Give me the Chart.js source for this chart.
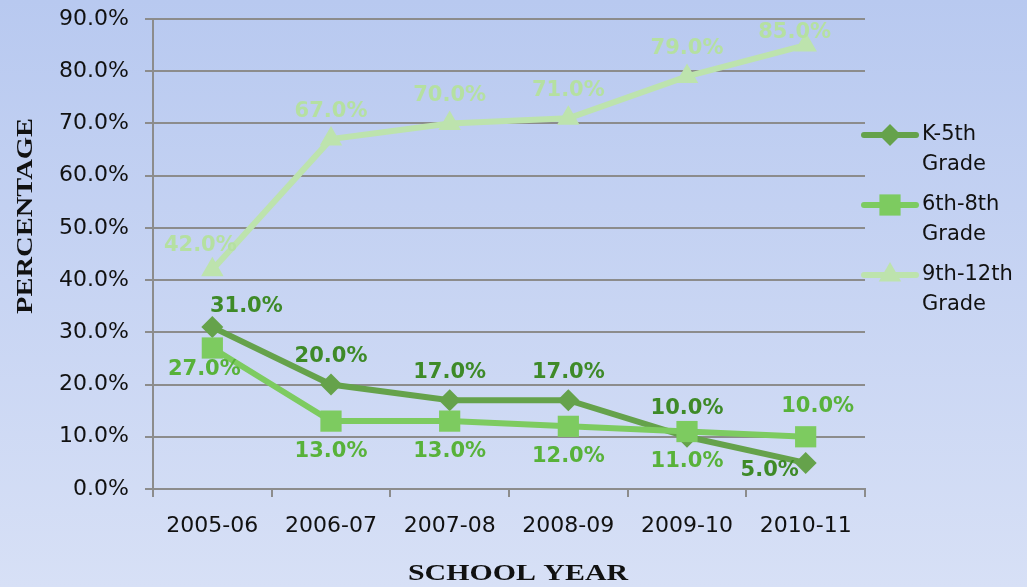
<!DOCTYPE html>
<html>
<head>
<meta charset="utf-8">
<script src="https://cdn.jsdelivr.net/npm/chart.js@4"></script>
<style>
  html, body { margin: 0; padding: 0; }
  body { width: 1027px; height: 587px; overflow: hidden; }
  #chart { display: block; }
</style>
</head>
<body>
<canvas id="chart" width="1027" height="587"></canvas>
<script>
// --- data ---
const years = ["2005-06", "2006-07", "2007-08", "2008-09", "2009-10", "2010-11"];
const k5 = [31, 20, 17, 17, 10, 5];
const g68 = [27, 13, 13, 12, 11, 10];
const g912 = [42, 67, 70, 71, 79, 85];
const legendNames = [["K-5th", "Grade"], ["6th-8th", "Grade"], ["9th-12th", "Grade"]];
const yTicks = [0, 10, 20, 30, 40, 50, 60, 70, 80, 90];

// label placement per point (styling only)
const places = [
  ["aboveRight", "above", "above", "above", "above", "belowLeft"],
  ["belowLeft", "below", "below", "below", "below", "aboveRight"],
  ["aboveLeft", "above", "above", "above", "above", "nearLeft"],
];
const labelColors = ["#3e8a28", "#58b23a", "#b5e0a1"];

const FONT = "'DejaVu Sans', Lato, sans-serif";
const SERIF = "'Liberation Serif', 'Times New Roman', serif";

// --- background ---
const bgPlugin = {
  id: "bg",
  beforeDraw(chart) {
    const { ctx, width, height } = chart;
    const g = ctx.createLinearGradient(0, 0, 0, height);
    g.addColorStop(0, "#b8c9f0");
    g.addColorStop(1, "#d7e0f6");
    ctx.save();
    ctx.fillStyle = g;
    ctx.fillRect(0, 0, width, height);
    ctx.restore();
  },
};

// --- value labels ---
const labelPlugin = {
  id: "vals",
  afterDatasetsDraw(chart) {
    const ctx = chart.ctx;
    ctx.save();
    ctx.font = "bold 21px " + FONT;
    ctx.textAlign = "center";
    ctx.textBaseline = "middle";
    chart.data.datasets.forEach((ds, di) => {
      const meta = chart.getDatasetMeta(di);
      meta.data.forEach((pt, i) => {
        let dx = 0, dy = 0;
        switch (places[di][i]) {
          case "above": dy = -28; break;
          case "below": dy = 30; break;
          case "aboveRight": dx = 34; dy = -21; break;
          case "aboveLeft": dx = -12; dy = -24; break;
          case "nearLeft": dx = -11; dy = -13; break;
          case "belowLeft": dx = di === 0 ? -36 : -8; dy = di === 0 ? 8 : 22; break;
        }
        if (di === 1 && places[di][i] === "aboveRight") { dx = 12; dy = -30; }
        ctx.fillStyle = labelColors[di];
        ctx.fillText(ds.data[i].toFixed(1) + "%", pt.x + dx, pt.y + dy);
      });
    });
    ctx.restore();
  },
};

// --- legend + axis titles ---
const sidePlugin = {
  id: "side",
  afterDraw(chart) {
    const ctx = chart.ctx;
    ctx.save();
    const rows = [135, 205, 275];
    chart.data.datasets.forEach((ds, di) => {
      const y = rows[di];
      ctx.strokeStyle = ds.borderColor;
      ctx.lineWidth = 6;
      ctx.lineCap = "round";
      ctx.beginPath();
      ctx.moveTo(864, y);
      ctx.lineTo(916, y);
      ctx.stroke();
      ctx.fillStyle = ds.pointBackgroundColor;
      ctx.strokeStyle = ds.pointBackgroundColor;
      ctx.lineWidth = 0;
      Chart.helpers.drawPoint(ctx, {
        pointStyle: ds.pointStyle, radius: ds.pointRadius, borderWidth: 0, rotation: 0,
      }, 890, y);
      ctx.fillStyle = "#111";
      ctx.font = "21px " + FONT;
      ctx.textAlign = "left";
      ctx.textBaseline = "middle";
      ctx.fillText(legendNames[di][0], 922, y);
      ctx.fillText(legendNames[di][1], 922, y + 30);
    });

    ctx.fillStyle = "#111";
    ctx.font = "bold 23px " + SERIF;
    ctx.textAlign = "center";
    ctx.textBaseline = "middle";
    ctx.save();
    ctx.translate(518, 574);
    ctx.scale(1.3, 1);
    ctx.fillText("SCHOOL YEAR", 0, 0);
    ctx.restore();
    ctx.save();
    ctx.translate(26, 216);
    ctx.rotate(-Math.PI / 2);
    ctx.scale(1.24, 1);
    ctx.fillText("PERCENTAGE", 0, 0);
    ctx.restore();
    ctx.restore();
  },
};

const lineSet = (label, data, color, style, radius, order) => ({
  label, data, order,
  borderColor: color,
  backgroundColor: color,
  pointBackgroundColor: color,
  pointBorderColor: color,
  pointBorderWidth: 0,
  pointStyle: style,
  pointRadius: radius,
  borderWidth: 6,
  tension: 0,
  fill: false,
});

new Chart(document.getElementById("chart"), {
  type: "line",
  data: {
    labels: years,
    datasets: [
      lineSet("K-5th Grade", k5, "#65a24b", "rectRot", 11, 1),
      lineSet("6th-8th Grade", g68, "#7dcb60", "rect", 15, 0),
      lineSet("9th-12th Grade", g912, "#bde3ad", "triangle", 13, 2),
    ],
  },
  options: {
    responsive: false,
    animation: false,
    layout: { padding: { top: 19, right: 162, bottom: 0, left: 0 } },
    plugins: {
      legend: { display: false },
      tooltip: { enabled: false },
    },
    scales: {
      x: {
        offset: true,
        grid: { offset: true, drawOnChartArea: false, color: "#8c8c8c", lineWidth: 2, tickLength: 8 },
        border: { color: "#8c8c8c", width: 2 },
        ticks: { color: "#111", font: { family: FONT, size: 22 }, padding: 16, maxRotation: 0 },
        afterFit(scale) { scale.height = 98; scale.paddingLeft = 0; scale.paddingRight = 0; },
      },
      y: {
        min: 0,
        max: 90,
        afterBuildTicks(scale) { scale.ticks = yTicks.map((v) => ({ value: v })); },
        grid: { color: "#8c8c8c", lineWidth: 2, tickLength: 8 },
        border: { color: "#8c8c8c", width: 2 },
        ticks: {
          color: "#111",
          font: { family: FONT, size: 22 },
          padding: 16,
          callback: (v) => v.toFixed(1) + "%",
        },
        afterFit(scale) { scale.width = 153; scale.paddingTop = 0; scale.paddingBottom = 0; },
      },
    },
  },
  plugins: [bgPlugin, labelPlugin, sidePlugin],
});
</script>
</body>
</html>
